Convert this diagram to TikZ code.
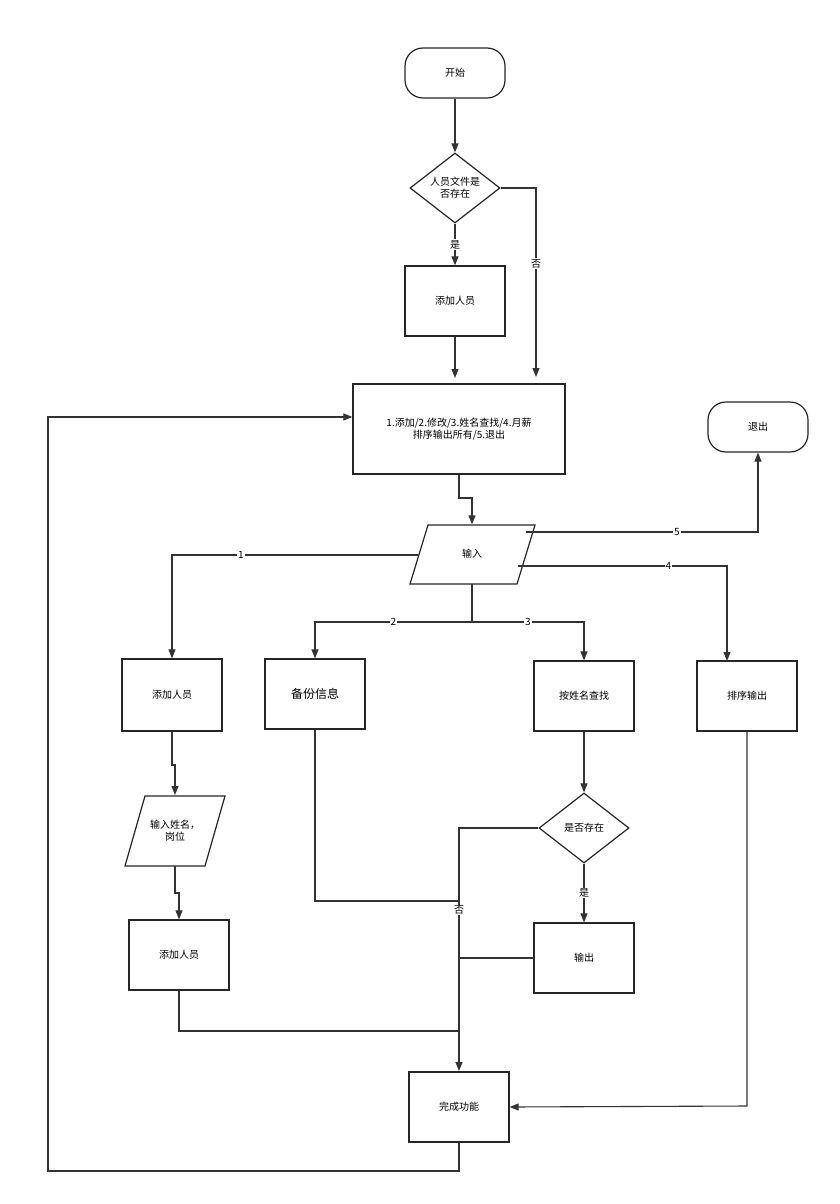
\documentclass[tikz,border=0pt]{standalone}
\usepackage{fontspec}
\setmainfont{Noto Sans CJK SC}
\usetikzlibrary{shapes.geometric,arrows.meta}
\begin{document}
\begin{tikzpicture}[x=1pt,y=-1pt,
  line/.style={draw=black!80,line width=1.1pt},
  arr/.style={line,-{Triangle[length=9pt,width=7pt]}},
  box/.style={draw=black!85,line width=1.2pt,minimum width=100pt,minimum height=70pt,font=\fontsize{10}{12}\selectfont,align=center},
  term/.style={box,rounded corners=18pt,minimum height=50pt},
  dia/.style={draw=black!85,line width=1.2pt,diamond,aspect=1.3,minimum width=90pt,minimum height=70pt,inner sep=0pt,font=\fontsize{10}{12}\selectfont,align=center},
  pshape/.style={draw=black!85,line width=1.2pt},
  txt/.style={font=\fontsize{10}{12}\selectfont,align=center},
  lab/.style={fill=white,inner sep=1pt,font=\fontsize{10}{12}\selectfont}]
\useasboundingbox (0,0) rectangle (840,1204);
\node[term] (start) at (455,73) {开始};
\node[dia] (d1) at (455,188) {人员文件是\\否存在};
\node[box] (add1) at (455,301) {添加人员};
\node[box,minimum width=212pt,minimum height=90pt] (menu) at (459,429) {1.添加/2.修改/3.姓名查找/4.月薪\\排序输出所有/5.退出};
\node[term] (exit) at (758,427) {退出};
\draw[pshape] (428,525) -- (535,525) -- (517,584) -- (410,584) -- cycle;
\node[txt,minimum width=90pt,minimum height=59pt] (in) at (472,554) {输入};
\node[box,minimum height=72pt] (addA) at (172,695) {添加人员};
\node[box,font=\fontsize{12}{14}\selectfont] (backup) at (315,694) {备份信息};
\node[box] (search) at (584,696) {按姓名查找};
\node[box] (sort) at (747,696) {排序输出};
\draw[pshape] (145,796) -- (225,796) -- (205,866) -- (125,866) -- cycle;
\node[txt,minimum width=70pt,minimum height=70pt] (iname) at (175,831) {输入姓名，\\岗位};
\node[dia] (d2) at (584,828) {是否存在};
\node[box] (add2) at (179,955) {添加人员};
\node[box] (out) at (584,958) {输出};
\node[box] (done) at (459,1107) {完成功能};
\coordinate (m) at (459,1031);
\draw[arr] (start) -- (d1);
\draw[arr] (d1) -- node[lab]{是} (add1);
\draw[arr] (d1.east) -- (536,188) -- node[lab,pos=0.4]{否} (536,377);
\draw[arr] (add1) -- (455,378);
\draw[arr] (menu.south) -- (459,498) -- (472,498) -- (in.north);
\draw[arr] (526,532) -- node[lab,pos=0.65]{5} (758,532) -- (exit.south);
\draw[arr] (518,566) -- node[lab,pos=0.72]{4} (727,566) -- (727,661);
\draw[arr] (418,555) -- node[lab,pos=0.72]{1} (172,555) -- (addA.north);
\draw[line] (in.south) -- (472,622);
\draw[arr] (472,622) -- node[lab]{2} (315,622) -- (backup.north);
\draw[arr] (472,622) -- node[lab,pos=0.5]{3} (584,622) -- (search.north);
\draw[arr] (addA.south) -- (172,765) -- (175,765) -- (175,795);
\draw[arr] (175,866) -- (175,893) -- (179,893) -- (add2.north);
\draw[line] (add2.south) -- (179,1031) -- (m);
\draw[line] (315,729) -- (315,901) -- (459,901);
\draw[arr] (d2.west) -- (459,828) -- (459,1071);
\node[lab] at (459,910) {否};
\draw[arr] (search) -- (d2);
\draw[arr] (d2) -- node[lab]{是} (out);
\draw[line] (out.west) -- (459,958);
\draw[arr] (sort.south) -- (747,1106) -- (done.east);
\draw[arr] (done.south) -- (459,1171) -- (48,1171) -- (48,417) -- (menu.west |- 0,417);
\end{tikzpicture}
\end{document}
